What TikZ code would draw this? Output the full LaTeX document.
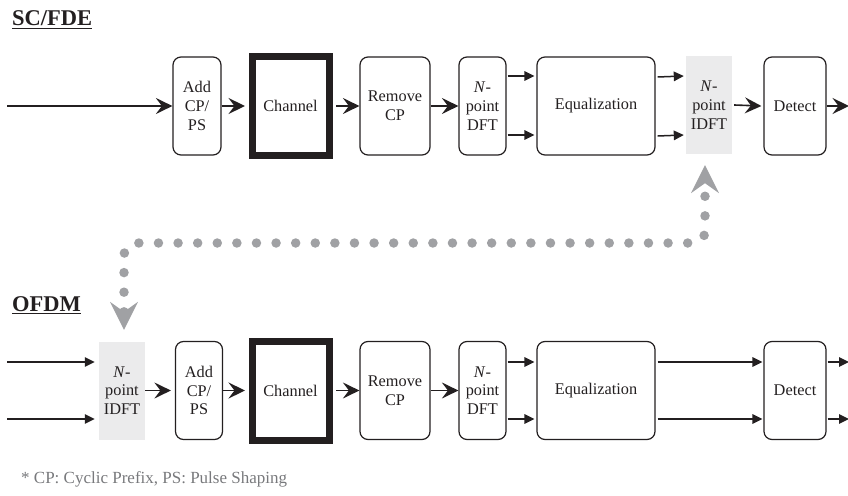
\documentclass[tikz,border=0pt]{standalone}
\usepackage{fontspec}
\setmainfont{Liberation Serif}
\usetikzlibrary{arrows.meta}
\definecolor{ink}{RGB}{35,31,32}
\definecolor{dotgray}{RGB}{160,161,164}
\definecolor{boxgray}{RGB}{235,235,236}
\definecolor{notegray}{RGB}{120,121,124}
\begin{document}
\begin{tikzpicture}[x=1pt,y=-1pt,
  font=\fontsize{16.3}{18.7}\selectfont,
  blk/.style={draw=ink, line width=1.2pt, rounded corners=8pt, minimum height=98pt, align=center, inner sep=0pt, text=ink},
  chanbox/.style={draw=ink, line width=7pt, minimum width=77pt, minimum height=99pt, inner sep=0pt, text=ink},
  gbox/.style={fill=boxgray, minimum width=46pt, minimum height=98pt, align=center, inner sep=0pt, text=ink},
  big/.style={draw=ink, line width=1.6pt, -{Stealth[length=16.5pt,width=16pt,inset=6pt]}},
  small/.style={draw=ink, line width=1.5pt, -{Triangle[length=10pt,width=9.5pt]}},
  title/.style={anchor=base west, inner sep=0pt, text=ink, font=\fontsize{22.5}{26}\selectfont\bfseries},
  uline/.style={draw=ink, line width=1.6pt},
  dotc/.style={draw=dotgray, line width=9.5pt, line cap=round, dash pattern=on 0pt off 19.6pt, rounded corners=12pt, {Stealth[length=28pt,width=28pt,inset=10pt,line width=0pt]}-{Stealth[length=28pt,width=28pt,inset=10pt,line width=0pt]}}
]
\useasboundingbox (0,0) rectangle (848,495);

% titles
\node[title] (t1) at (12,26) {SC/FDE};
\draw[uline] ([yshift=-2.5pt]t1.base west) -- ([yshift=-2.5pt]t1.base east);
\node[title] (t2) at (12,311) {OFDM};
\draw[uline] ([yshift=-2.5pt]t2.base west) -- ([yshift=-2.5pt]t2.base east);

% row 1
\node[blk, minimum width=48pt] (add1) at (197,106) {Add\\CP/\\PS};
\node[chanbox] (ch1) at (290.5,106) {Channel};
\node[blk, minimum width=70pt] (rem1) at (395,106) {Remove\\CP};
\node[blk, minimum width=47pt] (dft1) at (482.5,106) {\textit{N}-\\point\\DFT};
\node[blk, minimum width=118pt] (eq1) at (596,106) {Equalization};
\node[gbox] (idft1) at (709,105) {\textit{N}-\\point\\IDFT};
\node[blk, minimum width=62pt] (det1) at (795,106) {Detect};
\coordinate (in1) at (7,106);
\coordinate (out1) at (849,106);

\draw[big] (in1) -- (add1);
\draw[big, shorten >=3.5pt] (add1) -- (ch1.west);
\draw[big, shorten <=3.5pt] (ch1.east) -- (rem1);
\draw[big] (rem1) -- (dft1);
\draw[small] ([shift={(1,-30)}]dft1.east) -- ([shift={(-2,-30)}]eq1.west);
\draw[small] ([shift={(1,29)}]dft1.east) -- ([shift={(-2,29)}]eq1.west);
\draw[small] ([shift={(2,-29)}]eq1.east) -- ([shift={(-2,-29)}]idft1.west);
\draw[small] ([shift={(2,30)}]eq1.east) -- ([shift={(-2,30)}]idft1.west);
\draw[big] ([xshift=2pt]idft1.east) -- ([xshift=-2pt]det1.west);
\draw[big] (det1) -- (out1);

% row 2
\node[gbox] (idft2) at (122,390.5) {\textit{N}-\\point\\IDFT};
\node[blk, minimum width=47pt] (add2) at (199,390.5) {Add\\CP/\\PS};
\node[chanbox] (ch2) at (290.5,390.5) {Channel};
\node[blk, minimum width=70pt] (rem2) at (395,390.5) {Remove\\CP};
\node[blk, minimum width=47pt] (dft2) at (482.5,390.5) {\textit{N}-\\point\\DFT};
\node[blk, minimum width=118pt] (eq2) at (596,390.5) {Equalization};
\node[blk, minimum width=62pt] (det2) at (795,390.5) {Detect};
\coordinate (in2a) at (7,362);
\coordinate (in2b) at (7,419);
\coordinate (out2a) at (849,362);
\coordinate (out2b) at (849,419);

\draw[small, shorten >=4pt] (in2a) -- (in2a -| idft2.west);
\draw[small, shorten >=4pt] (in2b) -- (in2b -| idft2.west);
\draw[big, shorten >=4pt] (idft2) -- (add2);
\draw[big, shorten >=3.5pt] (add2) -- (ch2.west);
\draw[big, shorten <=3.5pt] (ch2.east) -- (rem2);
\draw[big] (rem2) -- (dft2);
\draw[small] ([shift={(1,-28.5)}]dft2.east) -- ([shift={(-2,-28.5)}]eq2.west);
\draw[small] ([shift={(1,28.5)}]dft2.east) -- ([shift={(-2,28.5)}]eq2.west);
\draw[small] ([shift={(2,-28.5)}]eq2.east) -- ([shift={(-1,-28.5)}]det2.west);
\draw[small] ([shift={(2,28.5)}]eq2.east) -- ([shift={(-1,28.5)}]det2.west);
\draw[small] ([shift={(1,-28.5)}]det2.east) -- (out2a);
\draw[small] ([shift={(1,28.5)}]det2.east) -- (out2b);

% dotted link between the two IDFT blocks
\coordinate (k1) at (124,243);
\coordinate (k2) at (705,243);
\draw[dotc] ([shift={(2,-11.5)}]idft2.north) -- (k1) -- (k2) -- ([shift={(-4,11)}]idft1.south);

% footnote
\node[anchor=base west, inner sep=0pt, text=notegray, font=\fontsize{17}{20}\selectfont] (note) at (21,483) {* CP: Cyclic Prefix, PS: Pulse Shaping};
\end{tikzpicture}
\end{document}
